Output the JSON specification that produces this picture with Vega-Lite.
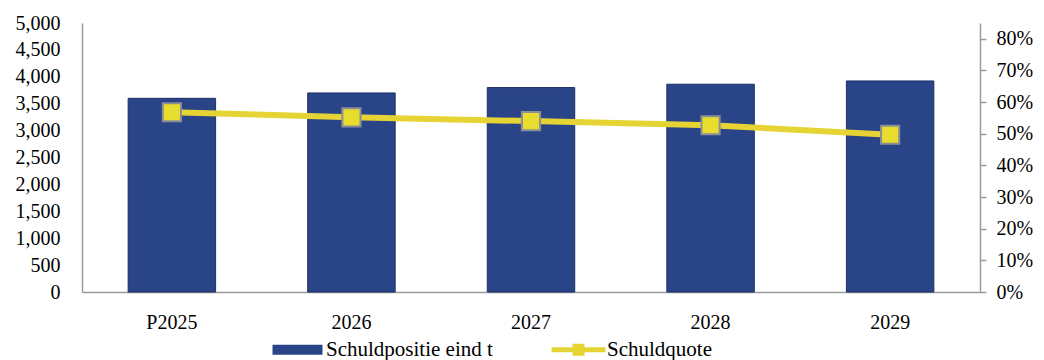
{
  "$schema": "https://vega.github.io/schema/vega-lite/v6.json",
  "width": 898,
  "height": 269,
  "autosize": "none",
  "padding": {"left": 82, "top": 23, "right": 64, "bottom": 68},
  "background": "white",
  "data": {"values": [
    {"jaar": "P2025", "schuld": 3600, "quote": 0.568},
    {"jaar": "2026", "schuld": 3700, "quote": 0.552},
    {"jaar": "2027", "schuld": 3800, "quote": 0.540},
    {"jaar": "2028", "schuld": 3862, "quote": 0.527},
    {"jaar": "2029", "schuld": 3923, "quote": 0.497}
  ]},
  "encoding": {
    "x": {"field": "jaar", "type": "nominal", "sort": null,
      "scale": {"paddingInner": 0.513, "paddingOuter": 0.257},
      "axis": {"title": null, "labelAngle": 0, "ticks": false, "labelPadding": 20, "domainColor": "#9a9a9a", "domainWidth": 1.5}}
  },
  "layer": [
    {
      "mark": {"type": "bar", "stroke": "#1d2f66", "strokeWidth": 1},
      "encoding": {
        "y": {"field": "schuld", "type": "quantitative",
          "scale": {"domain": [0, 5000]},
          "axis": {"title": null, "values": [0,500,1000,1500,2000,2500,3000,3500,4000,4500,5000], "format": ",.0f", "grid": false, "ticks": false, "labelPadding": 22, "domainColor": "#9a9a9a", "domainWidth": 1.5}},
        "color": {"datum": "Schuldpositie eind t",
          "scale": {"domain": ["Schuldpositie eind t", "Schuldquote"], "range": ["#2a4488", "#e5d433"]},
          "legend": {"title": null, "orient": "none", "legendX": 205, "legendY": 316, "direction": "horizontal",
            "symbolSize": 400, "symbolStrokeWidth": 0, "labelOffset": 18, "columnPadding": 58, "labelLimit": 400,
            "symbolType": "M-2.5,-0.5H2.5V0.5H-2.5Z",
            "encoding": {"symbols": {
              "shape": {"value": {"expr": "datum.value === 'Schuldquote' ? 'M-2.7,-0.25H-0.6V-0.6H0.6V-0.25H2.7V0.25H0.6V0.6H-0.6V0.25H-2.7Z' : 'M-2.5,-0.5H2.5V0.5H-2.5Z'"}}
            }}}}
      }
    },
    {
      "mark": {"type": "line", "strokeWidth": 6},
      "encoding": {
        "y": {"field": "quote", "type": "quantitative", "scale": {"domain": [0, 0.85]},
          "axis": {"title": null, "orient": "right", "values": [0,0.1,0.2,0.3,0.4,0.5,0.6,0.7,0.8], "format": ".0%", "grid": false, "tickSize": 6, "tickColor": "#9a9a9a", "tickWidth": 1.5, "labelPadding": 10, "domainColor": "#9a9a9a", "domainWidth": 1.5}},
        "color": {"datum": "Schuldquote"}
      }
    },
    {
      "mark": {"type": "point", "shape": "square", "filled": true, "size": 330, "fill": "#e8dc2e", "stroke": "#8a8f96", "strokeWidth": 2, "opacity": 1},
      "encoding": {
        "y": {"field": "quote", "type": "quantitative", "scale": {"domain": [0, 0.85]}, "axis": null}
      }
    }
  ],
  "resolve": {"scale": {"y": "independent"}},
  "config": {
    "view": {"stroke": null},
    "font": "Liberation Serif",
    "axis": {"labelFont": "Liberation Serif", "labelFontSize": 20, "labelColor": "#000000"},
    "legend": {"labelFont": "Liberation Serif", "labelFontSize": 21, "labelColor": "#000000"}
  }
}
